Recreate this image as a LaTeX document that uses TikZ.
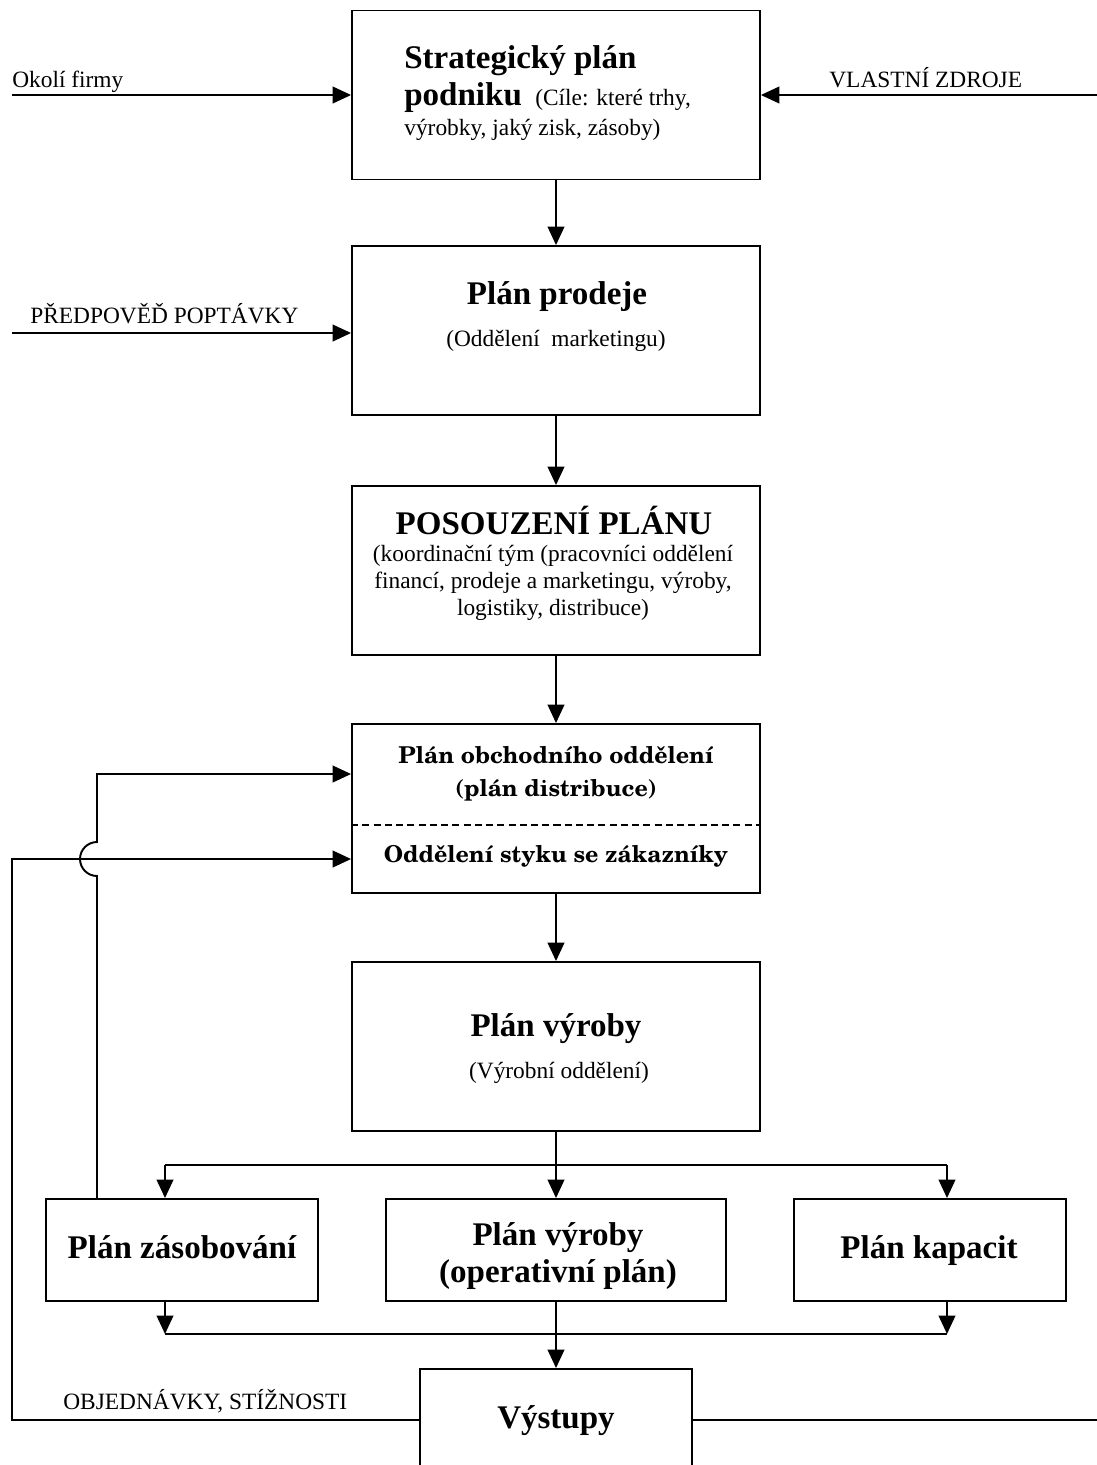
\documentclass[tikz,border=0pt]{standalone}
\usepackage{fontspec}
\setmainfont{Liberation Serif}
\newfontfamily\scholabf{texgyreschola-bold.otf}
\usetikzlibrary{arrows.meta}
% text sizes
\newcommand{\regtxt}{\fontsize{13.3}{15.6}\selectfont}
\newcommand{\headtxt}{\fontsize{18.8}{22}\selectfont\bfseries}
\newcommand{\deptxt}{\fontsize{13.2}{16}\selectfont\scholabf}

\begin{document}
\begin{tikzpicture}[x=0.02cm,y=-0.02cm,
  box/.style={draw,line width=1.1pt,inner sep=0pt,minimum width=8.16cm,minimum height=3.38cm},
  smallbox/.style={draw,line width=1.1pt,inner sep=0pt,minimum width=5.44cm,minimum height=2.04cm},
  ln/.style={line width=1.1pt},
  arr/.style={line width=1.1pt,-{Triangle[length=10.5pt,width=9.5pt]}},
  txt/.style={inner sep=0pt,anchor=base},
  ltxt/.style={inner sep=0pt,anchor=base west}]

\useasboundingbox (0,0) rectangle (1097,1465);

% main column of boxes
\node[box] (strat)  at (556,95)    {};
\node[box] (prodej) at (556,330.5) {};
\node[box] (posouz) at (556,570.5) {};
\node[box] (obch)   at (556,808.5) {};
\node[box] (vyroba) at (556,1046.5) {};
\draw[line width=0.9pt,dash pattern=on 4pt off 2.4pt] (obch.west |- 0,825) -- (obch.east |- 0,825);

% lower row
\node[smallbox] (zasob) at (182,1250) {};
\node[smallbox,minimum width=6.8cm] (oper) at (556,1250) {};
\node[smallbox] (kapac) at (930,1250) {};
\node[smallbox] (vystup) at (556,1420) {};

% box texts
\node[ltxt] (t1a) at (404,68) {\headtxt Strategický plán};
\node[ltxt] (t1b) at (404,105) {\headtxt podniku};
\node[ltxt] (t1c) at (535,105) {\regtxt (Cíle: které trhy,};
\node[ltxt] (t1d) at (404,135) {\regtxt výrobky, jaký zisk, zásoby)};

\node[txt] (t2a) at (557,304) {\headtxt Plán prodeje};
\node[txt] (t2b) at (556,346) {\regtxt (Oddělení\ \ marketingu)};

\node[txt] (t3a) at (554,534) {\headtxt POSOUZENÍ PLÁNU};
\node[txt] (t3b) at (553,561) {\regtxt (koordinační tým (pracovníci oddělení};
\node[txt] (t3c) at (553,588) {\regtxt financí, prodeje a marketingu, výroby,};
\node[txt] (t3d) at (553,615) {\regtxt logistiky, distribuce)};

\node[txt] (t4a) at (556,763) {\deptxt Plán obchodního oddělení};
\node[txt] (t4b) at (556,796) {\deptxt (plán distribuce)};
\node[txt] (t4c) at (556,862) {\deptxt Oddělení styku se zákazníky};

\node[txt] (t5a) at (556,1036) {\headtxt Plán výroby};
\node[txt] (t5b) at (559,1078) {\regtxt (Výrobní oddělení)};

\node[txt] (t6)  at (182,1258) {\headtxt Plán zásobování};
\node[txt] (t7a) at (558,1245) {\headtxt Plán výroby};
\node[txt] (t7b) at (558,1282) {\headtxt (operativní plán)};
\node[txt] (t8)  at (929,1258) {\headtxt Plán kapacit};
\node[txt] (t9)  at (556,1428) {\headtxt Výstupy};

% input labels
\node[ltxt] (lok) at (12,87)   {\regtxt Okolí firmy};
\node[ltxt] (lvz) at (829,87)  {\regtxt VLASTNÍ ZDROJE};
\node[ltxt] (lpp) at (30,323)  {\regtxt PŘEDPOVĚĎ POPTÁVKY};
\node[ltxt] (lob) at (63,1409) {\regtxt OBJEDNÁVKY, STÍŽNOSTI};

% free ends of the connectors
\coordinate (okL)  at (12,95);
\coordinate (vzR)  at (1097,95);
\coordinate (ppL)  at (12,333);
\coordinate (fbTop) at (97,774);
\coordinate (fbLow) at (12,859);
\coordinate (jmp)  at (97,859);
\coordinate (outR) at (1097,1420);
\coordinate (forkL) at (165,1165);
\coordinate (forkR) at (947,1165);
\coordinate (joinL) at (165,1334);
\coordinate (joinR) at (947,1334);

% inputs
\draw[arr] (okL) -- (strat.west |- okL);
\draw[arr] (vzR) -- (strat.east |- vzR);
\draw[arr] (ppL) -- (prodej.west |- ppL);

% main flow
\draw[arr] (strat) -- (prodej);
\draw[arr] (prodej) -- (posouz);
\draw[arr] (posouz) -- (obch);
\draw[arr] (obch) -- (vyroba);

% split into the three plans
\draw[arr] (vyroba) -- (oper);
\draw[ln] (forkL) -- (forkR);
\draw[arr] (forkL) -- (zasob.north -| forkL);
\draw[arr] (forkR) -- (kapac.north -| forkR);

% merge into outputs
\draw[arr] (zasob.south -| joinL) -- (joinL);
\draw[arr] (kapac.south -| joinR) -- (joinR);
\draw[ln] (joinL) -- (joinR);
\draw[arr] (oper) -- (vystup);

% feedback from supply plan, hopping over the orders line
\draw[arr] (zasob.north -| jmp) -- ([yshift=-0.34cm]jmp)
  arc[start angle=-90,end angle=-270,radius=0.34cm]
  -- (jmp |- fbTop) -- (obch.west |- fbTop);

% orders and complaints back to the customer department
\draw[arr] (vystup.west) -| (fbLow) -- (obch.west |- fbLow);

% output to the right
\draw[ln] (vystup.east) -- (outR);

\end{tikzpicture}
\end{document}
